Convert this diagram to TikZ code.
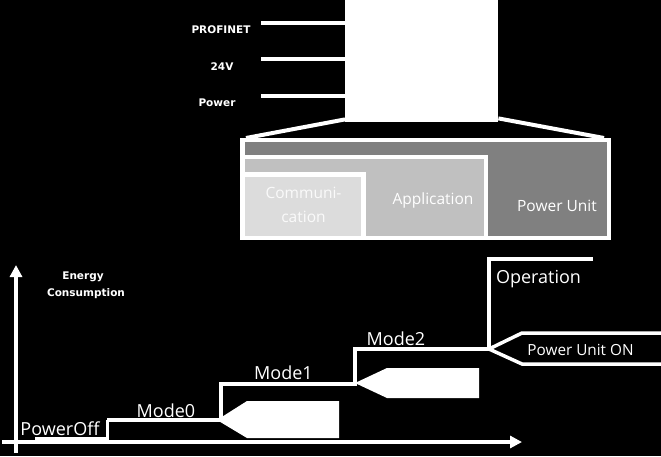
\documentclass[tikz,border=0pt]{standalone}
\usepackage{fontspec}
\setmainfont{Open Sans}
\newfontfamily\dvs{DejaVu Sans}
\usetikzlibrary{arrows.meta}
\definecolor{gDark}{HTML}{808080}
\definecolor{gMid}{HTML}{C0C0C0}
\definecolor{gLight}{HTML}{DCDCDC}
\begin{document}
\begin{tikzpicture}[x=1pt,y=-1pt,line join=miter,
  wline/.style={draw=white,line width=4pt},
  panel/.style={draw=white,line width=4.5pt},
  steps/.style={draw=white,line width=3.5pt},
  axisline/.style={draw=white,line width=3.5pt,-{Triangle[length=12pt,width=12pt]}},
  smalllab/.style={text=white,font=\dvs\bfseries\fontsize{10.5}{12}\selectfont,anchor=base,inner sep=0pt},
  panellab/.style={text=white,font=\fontsize{15.5}{18}\selectfont,anchor=base,inner sep=0pt},
  modelab/.style={text=white,font=\fontsize{18}{20}\selectfont,anchor=base,inner sep=0pt},
  arrowfill/.style={fill=white,draw=none}]
\fill[black] (0,0) rectangle (661,456);
\useasboundingbox (0,0) rectangle (661,456);

% device box
\node[fill=white,draw=none,inner sep=0pt,minimum width=153pt,minimum height=127pt,anchor=north west] (dev) at (345,-5) {};

% inputs
\node[smalllab] (lprof) at (221,33) {PROFINET};
\node[smalllab] (l24) at (222,70) {24V};
\node[smalllab] (lpow) at (217,106) {Power};
\coordinate (cprof) at (261,23);
\coordinate (c24) at (261,59);
\coordinate (cpow) at (261,96);
\draw[wline] (cprof) -- (cprof -| dev.west);
\draw[wline] (c24) -- (c24 -| dev.west);
\draw[wline] (cpow) -- (cpow -| dev.west);

% zoom lines
\coordinate (zl) at (246,138);
\coordinate (zr) at (604,138);
\draw[wline] ([yshift=3pt]dev.south west) -- (zl);
\draw[wline] ([yshift=4pt]dev.south east) -- (zr);

% panel
\draw[panel,fill=gDark] (242.5,140) rectangle (609,238);
\draw[panel,fill=gMid] (242.5,157) rectangle (486,238);
\draw[panel,fill=gLight] (242.5,174.5) rectangle (363.5,238);
\node[panellab,text=white!96!gray] (comm1) at (303.5,198) {Communi-};
\node[panellab,text=white!96!gray] (comm2) at (303.5,222) {cation};
\node[panellab] (app) at (433,204) {Application};
\node[panellab] (pu) at (557,211) {Power Unit};

% axes
\coordinate (yb) at (16,453);
\coordinate (yt) at (16,265);
\coordinate (xl) at (2,442);
\coordinate (xr) at (522,442);
\draw[axisline] (yb) -- (yt);
\draw[axisline] (xl) -- (xr);
\node[smalllab] (ec1) at (83,279) {Energy};
\node[smalllab] (ec2) at (86,296) {Consumption};

% step curve
\coordinate (s0) at (35,438);
\coordinate (s1) at (107,438);
\coordinate (s2) at (107,420);
\coordinate (s3) at (221,420);
\coordinate (s4) at (221,384);
\coordinate (s5) at (355,384);
\coordinate (s6) at (355,349);
\coordinate (s7) at (489,349);
\coordinate (s8) at (489,259);
\coordinate (s9) at (593,259);
\draw[white,line width=3pt] (s0) -- (s1);
\draw[white,line width=3pt] (107,442) -- (s2);
\draw[steps] (s2) -- (s3) -- (s4) -- (s5) -- (s6) -- (s7) -- (s8) -- (s9);

% transition arrows
\fill[arrowfill] (217,420) -- (247,401) -- (339,401) -- (339,438) -- (247,438) -- cycle;
\fill[arrowfill] (355,383) -- (387,368) -- (479,368) -- (479,398) -- (387,398) -- cycle;
\draw[white,line width=3.5pt,fill=black] (670,333) -- (522,333) -- (489,349) -- (522,364) -- (670,364);
\node[text=white,font=\fontsize{15.3}{18}\selectfont,anchor=base,inner sep=0pt] (puon) at (580.5,355) {Power Unit ON};

% labels
\node[modelab] (lpoff) at (60,435) {PowerOff};
\node[modelab] (lm0) at (166,417) {Mode0};
\node[modelab] (lm1) at (283.5,379) {Mode1};
\node[modelab] (lm2) at (396,345) {Mode2};
\node[modelab] (lop) at (538.5,283) {Operation};
\end{tikzpicture}
\end{document}
